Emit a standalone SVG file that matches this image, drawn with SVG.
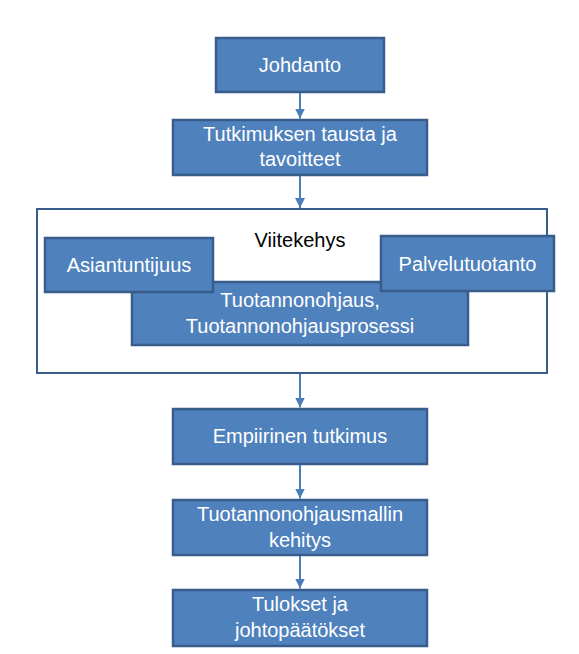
<svg xmlns="http://www.w3.org/2000/svg" width="579" height="654" viewBox="0 0 579 654">
<defs>
<style>
.box{fill:#4F81BD;stroke:#385D8A;stroke-width:2.5}
.frame{fill:#FFFFFF;stroke:#385D8A;stroke-width:2}
.t{font-family:"Liberation Sans",Arial,sans-serif;font-size:20px;fill:#FFFFFF;text-anchor:middle}
.tb{font-family:"Liberation Sans",Arial,sans-serif;font-size:20px;fill:#000000;text-anchor:middle}
.c{stroke:#4A7EBB;stroke-width:2;fill:none}
</style>
<marker id="ah" viewBox="0 0 10 10" refX="10" refY="5" markerWidth="5" markerHeight="5" markerUnits="strokeWidth" orient="auto">
<path d="M0,0 L10,5 L0,10 z" fill="#4A7EBB"/>
</marker>
</defs>
<rect width="579" height="654" fill="#FFFFFF"/>
<g id="frame-viitekehys">
<rect class="frame" x="37" y="209" width="510" height="164"/>
<text class="tb" x="300" y="247">Viitekehys</text>
</g>
<g id="node-johdanto">
<rect class="box" x="216" y="38" width="168" height="54"/>
<text class="t" x="300" y="72">Johdanto</text>
</g>
<g id="node-tutkimuksen">
<rect class="box" x="173" y="120" width="254" height="55"/>
<text class="t" x="300" y="141">Tutkimuksen tausta ja</text>
<text class="t" x="300" y="166">tavoitteet</text>
</g>
<g id="node-tuotannonohjaus">
<rect class="box" x="132" y="282" width="336" height="63"/>
<text class="t" x="300" y="307">Tuotannonohjaus,</text>
<text class="t" x="300" y="333">Tuotannonohjausprosessi</text>
</g>
<g id="node-asiantuntijuus">
<rect class="box" x="45" y="238" width="168" height="54"/>
<text class="t" x="129" y="272">Asiantuntijuus</text>
</g>
<g id="node-palvelutuotanto">
<rect class="box" x="381" y="236" width="173" height="55"/>
<text class="t" x="467.5" y="271">Palvelutuotanto</text>
</g>
<g id="node-empiirinen">
<rect class="box" x="173" y="409" width="254" height="55"/>
<text class="t" x="300" y="443">Empiirinen tutkimus</text>
</g>
<g id="node-mallin">
<rect class="box" x="173" y="500" width="254" height="55"/>
<text class="t" x="300" y="521">Tuotannonohjausmallin</text>
<text class="t" x="300" y="547">kehitys</text>
</g>
<g id="node-tulokset">
<rect class="box" x="173" y="590" width="254" height="56"/>
<text class="t" x="300" y="611">Tulokset ja</text>
<text class="t" x="300" y="637">johtopäätökset</text>
</g>
<g id="connectors">
<line class="c" x1="300" y1="93" x2="300" y2="118.5" marker-end="url(#ah)"/>
<line class="c" x1="300" y1="176" x2="300" y2="208" marker-end="url(#ah)"/>
<line class="c" x1="300" y1="374" x2="300" y2="407.5" marker-end="url(#ah)"/>
<line class="c" x1="300" y1="465" x2="300" y2="498.5" marker-end="url(#ah)"/>
<line class="c" x1="300" y1="556" x2="300" y2="588.5" marker-end="url(#ah)"/>
</g>
</svg>
